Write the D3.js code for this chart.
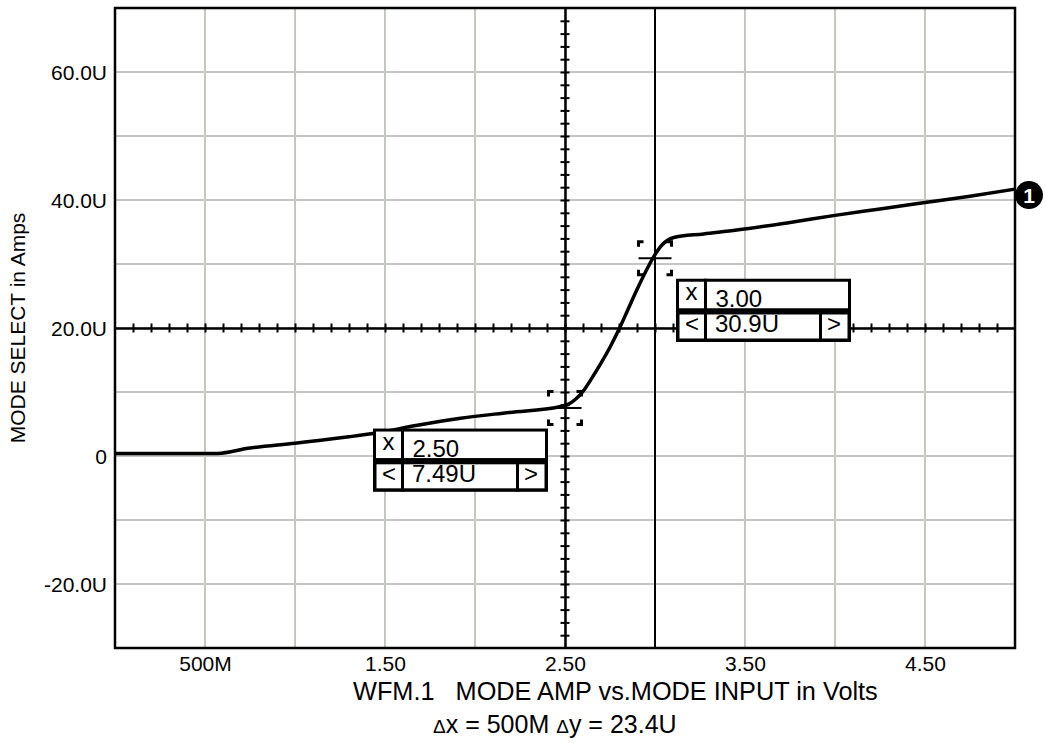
<!DOCTYPE html>
<html><head><meta charset="utf-8">
<script src="https://cdn.jsdelivr.net/npm/d3@7"></script>
<style>
body{margin:0;background:#fff;}
text{font-family:"Liberation Sans",Arial,sans-serif;fill:#000;}
</style></head><body>
<svg id="chart" width="1046" height="743"></svg>
<script>
// ---- data ----
const inputVolts   = [0, 0.57, 0.74, 1.0, 1.3, 1.45, 1.68, 1.92, 2.19, 2.47, 2.52, 2.56, 2.6, 2.65, 2.7, 2.75, 2.8, 2.85, 2.9, 2.95, 2.99, 3.04, 3.1, 3.27, 3.454, 3.75, 4.0, 4.25, 4.5, 4.75, 5.0];
const modeAmpMicro = [0.4, 0.4, 1.2, 2.0, 3.0, 3.6, 4.8, 5.9, 6.8, 7.7, 8.1, 8.9, 10.1, 12.2, 14.5, 17.0, 19.8, 22.9, 26.0, 28.9, 31.0, 33.0, 34.1, 34.7, 35.3, 36.5, 37.6, 38.6, 39.6, 40.6, 41.7];
const xTickValues = [0.5, 1.5, 2.5, 3.5, 4.5];
const xTickLabels = ["500M", "1.50", "2.50", "3.50", "4.50"];
const yTickValues = [-20, 0, 20, 40, 60];
const yTickLabels = ["-20.0U", "0", "20.0U", "40.0U", "60.0U"];
const cursorX = [2.5, 3.0];
const cursorY = [7.49, 30.9];
const cursorXLabels = ["2.50", "3.00"];
const cursorYLabels = ["7.49U", "30.9U"];
const deltaXLabel = "500M";
const deltaYLabel = "23.4U";
const xTitle = "WFM.1   MODE AMP vs.MODE INPUT in Volts";
const yTitle = "MODE SELECT in Amps";
const originX = 2.5, originY = 20;

// ---- layout ----
const L = 115, T = 8, W = 900, H = 640;
const svg = d3.select("#chart");
const x = d3.scaleLinear().domain([0, 5]).range([L, L + W]);
const y = d3.scaleLinear().domain([-30, 70]).range([T + H, T]);
const gridCol = "#c2c7c1";

svg.append("rect").attr("width", 1046).attr("height", 743).attr("fill", "#fff");

// grid
svg.append("g").selectAll("line").data(d3.range(0.5, 5, 0.5)).join("line")
  .attr("x1", d => x(d)).attr("x2", d => x(d)).attr("y1", T).attr("y2", T + H)
  .attr("stroke", gridCol).attr("stroke-width", 2);
svg.append("g").selectAll("line").data(d3.range(-20, 70, 10)).join("line")
  .attr("y1", d => y(d)).attr("y2", d => y(d)).attr("x1", L).attr("x2", L + W)
  .attr("stroke", gridCol).attr("stroke-width", 2);

// crosshair axes with ticks on both sides
const vTicks = d3.range(-28, 70, 2);
const hTicks = d3.range(1, 50, 1).map(d => d / 10);
[d3.axisLeft(y), d3.axisRight(y)].forEach(ax => {
  const g = svg.append("g").attr("transform", `translate(${x(originX)},0)`)
    .call(ax.tickValues(vTicks).tickFormat("").tickSizeInner(4.5).tickSizeOuter(0));
  g.selectAll("path,line").attr("stroke", "#000").attr("stroke-width", 2);
});
[d3.axisTop(x), d3.axisBottom(x)].forEach(ax => {
  const g = svg.append("g").attr("transform", `translate(0,${y(originY)})`)
    .call(ax.tickValues(hTicks).tickFormat("").tickSizeInner(4.5).tickSizeOuter(0));
  g.selectAll("path,line").attr("stroke", "#000").attr("stroke-width", 2);
});

// second cursor vertical line
svg.append("line").attr("x1", x(cursorX[1])).attr("x2", x(cursorX[1]))
  .attr("y1", T).attr("y2", T + H).attr("stroke", "#000").attr("stroke-width", 2);

// curve
const pts = inputVolts.map((v, i) => [v, modeAmpMicro[i]]);
svg.append("path").datum(pts)
  .attr("d", d3.line().x(d => x(d[0])).y(d => y(d[1])).curve(d3.curveMonotoneX))
  .attr("fill", "none").attr("stroke", "#000").attr("stroke-width", 3.5)
  .attr("stroke-linejoin", "round");

// cursor markers
cursorX.forEach((cx, i) => {
  const px = x(cx), py = y(cursorY[i]), s = 16.5, a = 5;
  const g = svg.append("g").attr("stroke", "#000").attr("fill", "none");
  g.append("line").attr("x1", px - s).attr("x2", px + s).attr("y1", py).attr("y2", py).attr("stroke-width", 2);
  [[-1, -1], [1, -1], [-1, 1], [1, 1]].forEach(([sx, sy]) => {
    const cxp = px + sx * s, cyp = py + sy * s;
    g.append("path")
      .attr("d", `M${cxp - sx * a},${cyp}L${cxp},${cyp}L${cxp},${cyp - sy * a}`)
      .attr("stroke-width", 3);
  });
});

// cursor readout boxes
function readout(left, top, xl, yl) {
  const g = svg.append("g");
  const bw = 175;
  g.append("rect").attr("x", left + 1.5).attr("y", top + 1.5).attr("width", bw - 3).attr("height", 29.5)
    .attr("fill", "#fff").attr("stroke", "#000").attr("stroke-width", 3);
  g.append("rect").attr("x", left + 1.75).attr("y", top + 34).attr("width", bw - 3.5).attr("height", 27.5)
    .attr("fill", "#fff").attr("stroke", "#000").attr("stroke-width", 3.5);
  g.append("line").attr("x1", left + 29.5).attr("x2", left + 29.5).attr("y1", top).attr("y2", top + 63)
    .attr("stroke", "#000").attr("stroke-width", 3);
  g.append("line").attr("x1", left + 144.5).attr("x2", left + 144.5).attr("y1", top + 32).attr("y2", top + 63)
    .attr("stroke", "#000").attr("stroke-width", 3);
  g.append("text").attr("x", left + 15.5).attr("y", top + 21).attr("text-anchor", "middle")
    .attr("font-size", 24).text("x");
  g.append("text").attr("x", left + 39.5).attr("y", top + 28).attr("font-size", 24).text(xl);
  g.append("text").attr("x", left + 16).attr("y", top + 53).attr("text-anchor", "middle")
    .attr("font-size", 24).text("<");
  g.append("text").attr("x", left + 39).attr("y", top + 53).attr("font-size", 24).text(yl);
  g.append("text").attr("x", left + 158).attr("y", top + 53).attr("text-anchor", "middle")
    .attr("font-size", 24).text(">");
}
readout(x(cursorX[0]) - 192, y(cursorY[0]) + 20.5, cursorXLabels[0], cursorYLabels[0]);
readout(x(cursorX[1]) + 21, y(cursorY[1]) + 20.5, cursorXLabels[1], cursorYLabels[1]);

// border
svg.append("rect").attr("x", L).attr("y", T).attr("width", W).attr("height", H)
  .attr("fill", "none").attr("stroke", "#000").attr("stroke-width", 2.5);

// tick labels
const gx = svg.append("g").attr("transform", `translate(0,${T + H})`)
  .call(d3.axisBottom(x).tickValues(xTickValues).tickFormat((d, i) => xTickLabels[i]).tickSize(0));
gx.select(".domain").remove();
gx.selectAll("text").attr("y", 23).attr("dy", 0).attr("font-size", 21)
  .attr("font-family", '"Liberation Sans",Arial,sans-serif');
const gy = svg.append("g").attr("transform", `translate(${L},0)`)
  .call(d3.axisLeft(y).tickValues(yTickValues).tickFormat((d, i) => yTickLabels[i]).tickSize(0));
gy.select(".domain").remove();
gy.selectAll("text").attr("x", -8).attr("dy", "0.36em").attr("font-size", 21)
  .attr("font-family", '"Liberation Sans",Arial,sans-serif');

// titles
svg.append("text").attr("x", 353).attr("y", 700).attr("font-size", 25.3)
  .style("white-space", "pre").text(xTitle);
svg.append("text").attr("transform", `translate(25,${T + H / 2}) rotate(-90)`)
  .attr("text-anchor", "middle").attr("font-size", 21).text(yTitle);
const dl = svg.append("text").attr("x", 433).attr("y", 733).attr("font-size", 25);
dl.append("tspan").attr("font-size", 19).text("\u0394");
dl.append("tspan").text("x = " + deltaXLabel + " ");
dl.append("tspan").attr("font-size", 19).text("\u0394");
dl.append("tspan").text("y = " + deltaYLabel);

// waveform marker
const last = pts[pts.length - 1];
svg.append("circle").attr("cx", x(last[0]) + 14).attr("cy", y(last[1]) + 6).attr("r", 14).attr("fill", "#000");
svg.append("text").attr("x", x(last[0]) + 14).attr("y", y(last[1]) + 6).attr("dy", "0.36em")
  .attr("text-anchor", "middle").attr("font-size", 21).attr("font-weight", "bold")
  .style("fill", "#fff").text("1");
</script>
</body></html>
